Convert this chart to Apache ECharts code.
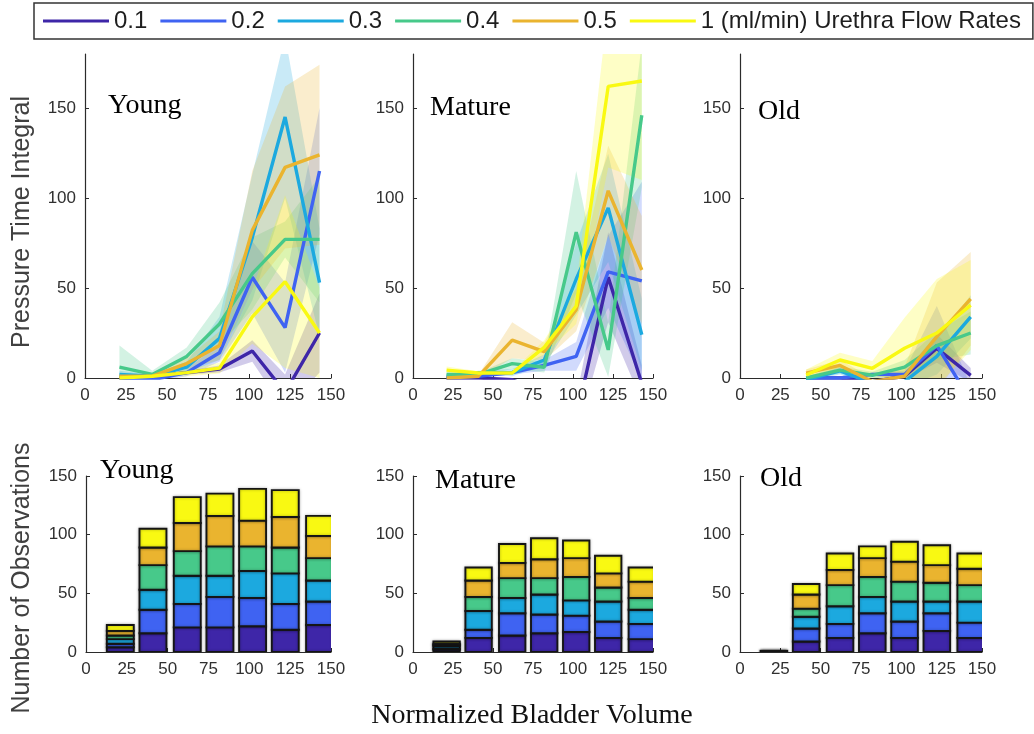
<!DOCTYPE html>
<html>
<head>
<meta charset="utf-8">
<script src="https://cdn.jsdelivr.net/npm/echarts@6/dist/echarts.min.js"></script>
<style>
  html, body { margin: 0; padding: 0; background: #fff; }
  #chart { width: 1034px; height: 734px; }
</style>
</head>
<body>
<div id="chart"></div>
<script>
// Urethra flow rates (ml/min) used as series names
const rates = ['0.1', '0.2', '0.3', '0.4', '0.5', '1 (ml/min) Urethra Flow Rates'];
const rateColors = ['#3E26A8', '#3F63F2', '#1CA9DF', '#47C98A', '#EAB42F', '#F9F912'];

// Normalized bladder volume bins (bin centres) and axis ticks
const binCenters = [21, 41, 62, 82, 102, 122, 143];
const volumeTicks = [0, 25, 50, 75, 100, 125, 150];
const ptiTicks = [0, 50, 100, 150];
const countTicks = [0, 50, 100, 150];

// Pressure time integral, mean per flow rate (rows) and volume bin (columns)
const youngPTI = [
  [0, 1, 3, 5, 15, -8, 25],
  [0, -1, 3, 14, 56, 28, 115],
  [2, 1, 6, 22, 78, 145, 53],
  [6, 2, 12, 30, 58, 77, 77],
  [1, 1, 8, 18, 82, 117, 124],
  [0, 1, 3, 5.5, 34, 53.5, 25]
];
const youngPTIErr = [
  [0, 0, 1, 2, 6, 10, 22],
  [1, 1, 2, 5, 20, 25, 35],
  [2, 1, 3, 12, 35, 45, 30],
  [12, 2, 5, 12, 20, 10, 35],
  [1, 1, 3, 8, 33, 45, 50],
  [1, 1, 2, 3, 15, 48, 25]
];
const maturePTI = [
  [0, 0, -1, -8, -22, 56, -3],
  [0, 1, 3, 7, 12, 59, 54],
  [1, 3, 3, 10, 55, 94.5, 24],
  [2, 2, 8, 6, 81, 15.6, 146],
  [0, 1, 21, 14.6, 38, 104, 60],
  [4.4, 2.8, 2.8, 17, 40, 162, 165]
];
const maturePTIErr = [
  [0, 0, 1, 3, 10, 25, 10],
  [0, 1, 1, 3, 8, 20, 55],
  [1, 1, 2, 3, 20, 30, 20],
  [1, 1, 3, 3, 34, 15, 40],
  [1, 1, 10, 5, 12, 25, 30],
  [2, 1, 1, 4, 10, 45, 55]
];
const oldPTI = [
  [null, 0, 0, -2, 1, 16.5, 1.5],
  [null, 0, 0, 2, 2, 18, -12.5],
  [null, -1, 4, -3, -2, 12, 34],
  [null, 0, 4.4, 1.5, 6, 18, 25],
  [null, 2.7, 7, -2, 1, 23, 44],
  [null, 1.7, 10, 5.4, 16.5, 25, 40.5]
];
const oldPTIErr = [
  [null, 0, 0, 1, 2, 8, 4],
  [null, 0, 1, 1, 2, 22, 8],
  [null, 1, 2, 2, 3, 10, 12],
  [null, 1, 2, 2, 4, 8, 12],
  [null, 2, 3, 2, 5, 30, 26],
  [null, 3, 4, 4, 17, 30, 25]
];

// Number of observations per flow rate (rows) and volume bin (columns)
const youngCounts = [
  [4, 16, 21, 21, 22, 19, 23],
  [3, 20, 20, 26, 24, 22, 20],
  [4, 17, 24, 18, 23, 26, 18],
  [3, 21, 21, 25, 21, 22, 19],
  [4, 15, 24, 26, 22, 26, 19],
  [5, 16, 22, 19, 27, 23, 17]
];
const matureCounts = [
  [2, 12, 14, 16, 17, 12, 11],
  [1, 7, 19, 16, 14, 14, 13],
  [2, 16, 13, 17, 13, 17, 12],
  [1, 12, 17, 14, 20, 12, 10],
  [1, 14, 13, 16, 16, 12, 14],
  [2, 11, 16, 18, 15, 15, 12]
];
const oldCounts = [
  [0, 9, 12, 16, 12, 18, 12],
  [0, 11, 12, 17, 14, 15, 13],
  [0, 10, 15, 14, 17, 10, 18],
  [1, 7, 18, 17, 17, 16, 14],
  [0, 12, 13, 16, 17, 15, 14],
  [0, 9, 14, 10, 17, 17, 13]
];

const groups = ['Young', 'Mature', 'Old'];
const ptiByGroup = [youngPTI, maturePTI, oldPTI];
const errByGroup = [youngPTIErr, maturePTIErr, oldPTIErr];
const countsByGroup = [youngCounts, matureCounts, oldCounts];

// Bar width in volume units (bins are about 20 units apart)
const barSpan = 16.5;

const sansFont = '"Liberation Sans", Arial, sans-serif';
const serifFont = '"Liberation Serif", "Times New Roman", serif';
const axisColor = '#2b2b2b';
const labelColor = '#303030';

// Panel rectangles: top row = pressure time integral, bottom row = counts
const gridRects = [
  { left: 85, top: 54, width: 246, height: 324 },
  { left: 413, top: 54, width: 240, height: 324 },
  { left: 740, top: 54, width: 242, height: 324 },
  { left: 86, top: 476, width: 245, height: 176 },
  { left: 413, top: 476, width: 240, height: 176 },
  { left: 740, top: 476, width: 242, height: 176 }
];

function volumeAxis(gridIndex) {
  return {
    type: 'value', gridIndex: gridIndex, min: 0, max: 150, interval: 25,
    axisLine: { show: true, onZero: false, lineStyle: { color: axisColor, width: 1.2 } },
    axisTick: { show: true, inside: true, length: 4, customValues: volumeTicks, lineStyle: { color: axisColor } },
    axisLabel: { color: labelColor, fontSize: 17, fontFamily: sansFont, margin: 9, customValues: volumeTicks },
    splitLine: { show: false }
  };
}
function valueAxis(gridIndex, max, ticks) {
  return {
    type: 'value', gridIndex: gridIndex, min: 0, max: max, interval: 50,
    axisLine: { show: true, onZero: false, lineStyle: { color: axisColor, width: 1.2 } },
    axisTick: { show: true, inside: true, length: 4, customValues: ticks, lineStyle: { color: axisColor } },
    axisLabel: { color: labelColor, fontSize: 17, fontFamily: sansFont, margin: 9, customValues: ticks },
    splitLine: { show: false }
  };
}

const xAxes = [];
const yAxes = [];
for (let g = 0; g < 6; g++) {
  xAxes.push(volumeAxis(g));
  yAxes.push(g < 3 ? valueAxis(g, 180, ptiTicks) : valueAxis(g, 150, countTicks));
}

// Stack counts of successive flow rates: rows of [x, base, top]
function stackRows(counts) {
  const base = binCenters.map(function () { return 0; });
  return counts.map(function (row) {
    return row.map(function (c, i) {
      const lo = base[i];
      base[i] += c;
      return [binCenters[i], lo, base[i]];
    });
  });
}

const lineSeries = [];
const bandSeries = [];
const barSeries = [];

groups.forEach(function (group, g) {
  const stacked = stackRows(countsByGroup[g]);
  rates.forEach(function (rate, r) {
    const mean = ptiByGroup[g][r];
    const err = errByGroup[g][r];
    const linePts = [];
    const bandRows = [];
    binCenters.forEach(function (x, i) {
      if (mean[i] === null) return;
      linePts.push([x, mean[i]]);
      bandRows.push([x, mean[i] - err[i], mean[i] + err[i]]);
    });

    lineSeries.push({
      type: 'line', name: rate, xAxisIndex: g, yAxisIndex: g,
      data: linePts, symbol: 'none', clip: true, z: 3, silent: true,
      color: rateColors[r],
      lineStyle: { color: rateColors[r], width: 3.4 },
      itemStyle: { color: rateColors[r] }
    });

    // shaded mean ± error band
    bandSeries.push({
      type: 'custom', name: rate, xAxisIndex: g, yAxisIndex: g,
      data: bandRows, encode: { x: 0, y: [1, 2] }, clip: true, silent: true, z: 1,
      color: rateColors[r],
      renderItem: function (params, api) {
        if (params.dataIndex !== 0) return null;
        const lower = bandRows.map(function (row) { return api.coord([row[0], row[1]]); });
        const upper = bandRows.slice().reverse().map(function (row) { return api.coord([row[0], row[2]]); });
        return {
          type: 'polygon',
          shape: { points: lower.concat(upper) },
          style: { fill: rateColors[r], opacity: 0.24 }
        };
      }
    });

    // stacked histogram segment for this flow rate
    barSeries.push({
      type: 'custom', name: rate, xAxisIndex: g + 3, yAxisIndex: g + 3,
      data: stacked[r], encode: { x: 0, y: [1, 2] }, clip: true, silent: true, z: 2,
      color: rateColors[r],
      renderItem: function (params, api) {
        const x = api.value(0);
        const p0 = api.coord([x, api.value(1)]);
        const p1 = api.coord([x, api.value(2)]);
        const w = api.size([barSpan, 0])[0];
        return {
          type: 'rect',
          shape: { x: p0[0] - w / 2, y: p1[1], width: w, height: p0[1] - p1[1] },
          style: {
            fill: rateColors[r], stroke: '#151515', lineWidth: 1.9,
            shadowColor: 'rgba(0,0,0,0.3)', shadowBlur: 3
          }
        };
      }
    });
  });
});

// Panel titles
const titlePositions = [
  [108, 106], [430, 108], [758, 112],
  [100, 471], [435, 481], [760, 479]
];
const graphics = titlePositions.map(function (p, i) {
  return {
    type: 'text', x: p[0], y: p[1], silent: true,
    style: {
      text: groups[i % 3], fill: '#000',
      font: '28px ' + serifFont, align: 'left', verticalAlign: 'middle'
    }
  };
});
graphics.push({
  type: 'text', x: 22, y: 222, rotation: Math.PI / 2, silent: true,
  style: { text: 'Pressure Time Integral', fill: '#404040', font: '25px ' + sansFont, align: 'center', verticalAlign: 'middle' }
});
graphics.push({
  type: 'text', x: 22, y: 578, rotation: Math.PI / 2, silent: true,
  style: { text: 'Number of Observations', fill: '#404040', font: '25px ' + sansFont, align: 'center', verticalAlign: 'middle' }
});
graphics.push({
  type: 'text', x: 532, y: 716, silent: true,
  style: { text: 'Normalized Bladder Volume', fill: '#111', font: '28px ' + serifFont, align: 'center', verticalAlign: 'middle' }
});

const chart = echarts.init(document.getElementById('chart'), null, { renderer: 'canvas' });
chart.setOption({
  animation: false,
  backgroundColor: '#fff',
  legend: {
    data: rates, left: 34, top: 3, orient: 'horizontal',
    icon: 'rect', itemWidth: 66, itemHeight: 3, itemGap: 13,
    padding: [6, 12, 6, 9],
    borderColor: '#333', borderWidth: 1.5, backgroundColor: '#fff',
    textStyle: { fontSize: 24, fontFamily: sansFont, color: '#1e1e1e' }
  },
  grid: gridRects.map(function (g) { return Object.assign({ containLabel: false }, g); }),
  xAxis: xAxes,
  yAxis: yAxes,
  series: lineSeries.concat(bandSeries, barSeries),
  graphic: graphics
});
</script>
</body>
</html>
